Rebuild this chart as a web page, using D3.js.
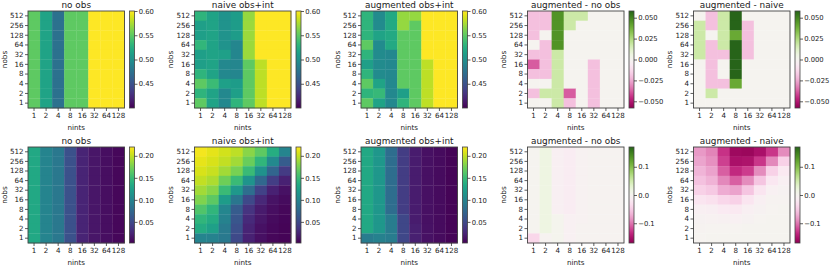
<!DOCTYPE html>
<html><head><meta charset="utf-8">
<script src="https://cdn.jsdelivr.net/npm/d3@7"></script>
<style>
body{margin:0;background:#fff}
svg text{font-family:"DejaVu Sans",sans-serif;fill:#1a1a1a}
</style>
</head><body>
<svg id="c" width="831" height="266"></svg>
<script>
// ---- categories ----
const nints = [1, 2, 4, 8, 16, 32, 64, 128];
const nobsTopDown = [512, 256, 128, 64, 32, 16, 8, 4, 2, 1];

// ---- top row (rows listed nobs 512 -> 1, columns nints 1 -> 128) ----
const noObsTop = [
  [0.55,0.516,0.475,0.55,0.55,0.60,0.60,0.60],
  [0.55,0.516,0.475,0.55,0.55,0.60,0.60,0.60],
  [0.55,0.516,0.475,0.55,0.55,0.60,0.60,0.60],
  [0.55,0.516,0.475,0.55,0.55,0.60,0.60,0.60],
  [0.55,0.516,0.475,0.55,0.55,0.60,0.60,0.60],
  [0.55,0.516,0.475,0.55,0.55,0.60,0.60,0.60],
  [0.55,0.516,0.475,0.55,0.55,0.60,0.60,0.60],
  [0.55,0.516,0.475,0.55,0.55,0.60,0.60,0.60],
  [0.55,0.516,0.475,0.55,0.55,0.60,0.60,0.60],
  [0.55,0.516,0.475,0.55,0.55,0.60,0.60,0.60]
];
const naiveTop = [
  [0.530,0.516,0.503,0.510,0.568,0.60,0.60,0.60],
  [0.512,0.516,0.503,0.510,0.570,0.60,0.60,0.60],
  [0.512,0.516,0.503,0.510,0.570,0.60,0.60,0.60],
  [0.532,0.516,0.503,0.492,0.570,0.60,0.60,0.60],
  [0.512,0.516,0.513,0.492,0.570,0.60,0.60,0.60],
  [0.512,0.516,0.493,0.492,0.550,0.58,0.60,0.60],
  [0.530,0.516,0.493,0.492,0.550,0.58,0.60,0.60],
  [0.550,0.536,0.513,0.510,0.550,0.58,0.60,0.60],
  [0.530,0.516,0.493,0.512,0.550,0.58,0.60,0.60],
  [0.550,0.516,0.493,0.530,0.550,0.58,0.60,0.60]
];
const augTop = [
  [0.530,0.496,0.521,0.568,0.568,0.60,0.60,0.60],
  [0.530,0.496,0.521,0.568,0.550,0.60,0.60,0.60],
  [0.530,0.516,0.521,0.550,0.550,0.60,0.60,0.60],
  [0.550,0.496,0.521,0.550,0.550,0.60,0.60,0.60],
  [0.530,0.496,0.493,0.550,0.550,0.60,0.60,0.60],
  [0.512,0.496,0.493,0.550,0.550,0.58,0.60,0.60],
  [0.530,0.496,0.493,0.550,0.550,0.58,0.60,0.60],
  [0.550,0.516,0.493,0.550,0.550,0.58,0.60,0.60],
  [0.530,0.534,0.493,0.512,0.550,0.58,0.60,0.60],
  [0.550,0.516,0.493,0.530,0.550,0.58,0.60,0.60]
];
const augMinusNoObsTop = [
  [-0.02,-0.02,0.046,0.018,0.018,0,0,0],
  [-0.02,-0.02,0.046,0.018,0,0,0,0],
  [-0.02,0,0.046,0,0,0,0,0],
  [0,-0.02,0.046,0,0,0,0,0],
  [-0.02,-0.02,0.018,0,0,0,0,0],
  [-0.038,-0.02,0.018,0,0,-0.02,0,0],
  [-0.02,-0.02,0.018,0,0,-0.02,0,0],
  [0,0,0.018,0,0,-0.02,0,0],
  [-0.02,0.018,0.018,-0.038,0,-0.02,0,0],
  [0,0,0.018,-0.02,0,-0.02,0,0]
];
const augMinusNaiveTop = [
  [0,-0.02,0.018,0.058,0,0,0,0],
  [0.018,-0.02,0.018,0.058,-0.02,0,0,0],
  [0.018,0,0.018,0.040,-0.02,0,0,0],
  [0.018,-0.02,0.018,0.058,-0.02,0,0,0],
  [0.018,-0.02,-0.02,0.058,-0.02,0,0,0],
  [0,-0.02,0,0.058,0,0,0,0],
  [0,-0.02,0,0.058,0,0,0,0],
  [0,-0.02,-0.02,0.040,0,0,0,0],
  [0,0.018,0,0,0,0,0,0],
  [0,0,0,0,0,0,0,0]
];

// ---- bottom row ----
const noObsBot = [
  [0.133,0.100,0.089,0.056,0.024,0.014,0.010,0.006],
  [0.133,0.100,0.089,0.056,0.024,0.014,0.010,0.006],
  [0.133,0.100,0.089,0.056,0.024,0.014,0.010,0.006],
  [0.133,0.100,0.089,0.056,0.024,0.014,0.010,0.006],
  [0.133,0.100,0.089,0.056,0.024,0.014,0.010,0.006],
  [0.133,0.100,0.089,0.056,0.024,0.014,0.010,0.006],
  [0.133,0.100,0.089,0.056,0.024,0.014,0.010,0.006],
  [0.133,0.100,0.089,0.056,0.024,0.014,0.010,0.006],
  [0.133,0.100,0.089,0.056,0.024,0.014,0.010,0.006],
  [0.133,0.100,0.089,0.056,0.024,0.014,0.010,0.006]
];
const naiveBot = [
  [0.216,0.211,0.205,0.198,0.181,0.166,0.137,0.100],
  [0.212,0.207,0.200,0.190,0.170,0.145,0.105,0.065],
  [0.207,0.202,0.190,0.175,0.150,0.112,0.072,0.040],
  [0.200,0.193,0.172,0.150,0.115,0.075,0.042,0.022],
  [0.190,0.180,0.150,0.118,0.080,0.045,0.022,0.012],
  [0.178,0.165,0.122,0.088,0.050,0.026,0.013,0.008],
  [0.160,0.145,0.102,0.065,0.035,0.018,0.010,0.006],
  [0.145,0.135,0.098,0.060,0.028,0.015,0.008,0.005],
  [0.135,0.125,0.092,0.055,0.024,0.012,0.007,0.004],
  [0.100,0.098,0.090,0.050,0.022,0.011,0.006,0.004]
];
const augBot = [
  [0.133,0.117,0.079,0.041,0.019,0.011,0.008,0.004],
  [0.133,0.117,0.079,0.041,0.019,0.011,0.008,0.004],
  [0.133,0.117,0.079,0.041,0.019,0.011,0.008,0.004],
  [0.133,0.117,0.079,0.041,0.019,0.011,0.008,0.004],
  [0.133,0.117,0.079,0.041,0.019,0.011,0.008,0.004],
  [0.133,0.117,0.079,0.041,0.019,0.011,0.008,0.004],
  [0.133,0.117,0.079,0.041,0.019,0.011,0.008,0.004],
  [0.133,0.117,0.093,0.048,0.019,0.011,0.008,0.004],
  [0.133,0.117,0.093,0.048,0.021,0.012,0.008,0.004],
  [0.093,0.097,0.093,0.048,0.021,0.012,0.008,0.004]
];
const augMinusNoObsBot = [
  [0,0.017,-0.010,-0.015,-0.005,-0.003,-0.002,-0.002],
  [0,0.017,-0.010,-0.015,-0.005,-0.003,-0.002,-0.002],
  [0,0.017,-0.010,-0.015,-0.005,-0.003,-0.002,-0.002],
  [0,0.017,-0.010,-0.015,-0.005,-0.003,-0.002,-0.002],
  [0,0.017,-0.010,-0.015,-0.005,-0.003,-0.002,-0.002],
  [0,0.017,-0.010,-0.015,-0.005,-0.003,-0.002,-0.002],
  [0,0.017,-0.010,-0.015,-0.005,-0.003,-0.002,-0.002],
  [0,0.017,0.004,-0.008,-0.005,-0.003,-0.002,-0.002],
  [0,0.017,0.004,-0.008,-0.003,-0.002,-0.002,-0.002],
  [-0.040,-0.003,0.004,-0.008,-0.003,-0.002,-0.002,-0.002]
];
const augMinusNaiveBot = [
  [-0.083,-0.094,-0.130,-0.160,-0.162,-0.152,-0.128,-0.090],
  [-0.077,-0.088,-0.123,-0.152,-0.150,-0.128,-0.092,-0.045],
  [-0.067,-0.078,-0.110,-0.135,-0.125,-0.090,-0.045,-0.020],
  [-0.058,-0.068,-0.092,-0.110,-0.090,-0.055,-0.022,-0.010],
  [-0.045,-0.052,-0.072,-0.078,-0.055,-0.025,-0.008,-0.004],
  [-0.025,-0.030,-0.040,-0.045,-0.025,-0.010,-0.003,-0.002],
  [-0.010,-0.012,-0.018,-0.020,-0.010,-0.004,-0.001,0],
  [-0.004,-0.005,-0.007,-0.008,-0.004,-0.001,0,0],
  [-0.002,-0.001,-0.001,-0.001,0,0,0,0],
  [-0.001,0,0,0,0,0,0,0]
];

// ---- colour ranges and colour-bar ticks ----
const seqDomainTop = [0.40, 0.60];
const divMaxTop = 0.058;
const seqDomainBot = [0.002, 0.22];
const divMaxBot = 0.17;
const seqTicksTop = [0.45, 0.50, 0.55, 0.60];
const divTicksTop = [-0.05, -0.025, 0, 0.025, 0.05];
const seqTicksBot = [0.05, 0.10, 0.15, 0.20];
const divTicksBot = [-0.1, 0, 0.1];

const titles = ["no obs", "naive obs+int", "augmented obs+int", "augmented - no obs", "augmented - naive"];

const panels = [
  {row:0,col:0,data:noObsTop,kind:"seq"},
  {row:0,col:1,data:naiveTop,kind:"seq"},
  {row:0,col:2,data:augTop,kind:"seq"},
  {row:0,col:3,data:augMinusNoObsTop,kind:"div"},
  {row:0,col:4,data:augMinusNaiveTop,kind:"div"},
  {row:1,col:0,data:noObsBot,kind:"seq"},
  {row:1,col:1,data:naiveBot,kind:"seq"},
  {row:1,col:2,data:augBot,kind:"seq"},
  {row:1,col:3,data:augMinusNoObsBot,kind:"div"},
  {row:1,col:4,data:augMinusNaiveBot,kind:"div"}
];

// ---- layout ----
const colX = [28, 194.5, 361, 527.5, 693.5];
const rowY = [11, 147];
const rowH = [97, 96];
const W = 96.5;
const FS_TICK = 7.1, FS_CB = 6.8, FS_LABEL = 7.2, FS_TITLE = 8.9;

const svg = d3.select("#c");
const defs = svg.append("defs");

function styleAxis(sel, fs){
  sel.select(".domain").remove();
  sel.selectAll(".tick line").attr("stroke","#333").attr("stroke-width",0.8);
  sel.selectAll(".tick text").attr("font-size",fs || FS_TICK).attr("font-family","DejaVu Sans").attr("fill","#1a1a1a");
  sel.attr("font-size",null).attr("font-family",null);
}

panels.forEach((p,pi)=>{
  const X = colX[p.col], Y = rowY[p.row], H = rowH[p.row];
  const g = svg.append("g");
  const x = d3.scaleBand().domain(nints).range([X, X+W]);
  const y = d3.scaleBand().domain(nobsTopDown).range([Y, Y+H]);
  let color, cbDomain, ticks, fmt;
  if(p.kind==="seq"){
    cbDomain = p.row===0 ? seqDomainTop : seqDomainBot;
    color = d3.scaleSequential(d3.interpolateViridis).domain(cbDomain).clamp(true);
    ticks = p.row===0 ? seqTicksTop : seqTicksBot;
    fmt = d3.format(".2f");
  } else {
    const m = p.row===0 ? divMaxTop : divMaxBot;
    cbDomain = [-m, m];
    color = d3.scaleSequential(d3.interpolatePiYG).domain(cbDomain).clamp(true);
    ticks = p.row===0 ? divTicksTop : divTicksBot;
    fmt = d3.format(p.row===0 ? ".3f" : ".1f");
  }
  // cells
  p.data.forEach((r,i)=>{
    r.forEach((v,j)=>{
      g.append("rect")
        .attr("x", x(nints[j])).attr("y", y(nobsTopDown[i]))
        .attr("width", x.bandwidth()+0.3).attr("height", y.bandwidth()+0.3)
        .attr("fill", color(v));
    });
  });
  // frame
  g.append("rect").attr("x",X).attr("y",Y).attr("width",W).attr("height",H)
    .attr("fill","none").attr("stroke","#444").attr("stroke-width",0.9);
  // axes
  g.append("g").attr("transform",`translate(0,${Y+H})`)
    .call(d3.axisBottom(x).tickSize(3).tickPadding(1.5)).call(s=>styleAxis(s));
  g.append("g").attr("transform",`translate(${X},0)`)
    .call(d3.axisLeft(y).tickSize(3).tickPadding(1.5)).call(s=>styleAxis(s));
  // labels
  g.append("text").attr("x",X+W/2).attr("y",Y+H+21.5).attr("text-anchor","middle")
    .attr("font-size",FS_LABEL).text("nints");
  g.append("text").attr("transform",`translate(${X-21.5},${Y+H/2}) rotate(-90)`)
    .attr("text-anchor","middle").attr("font-size",FS_LABEL).text("nobs");
  g.append("text").attr("x",X+W/2).attr("y",Y-3.5).attr("text-anchor","middle")
    .attr("font-size",FS_TITLE).text(titles[p.col]);
  // colorbar
  const cbX = X+W+5, cbW = 5;
  const gid = "grad"+pi;
  const grad = defs.append("linearGradient").attr("id",gid)
    .attr("x1",0).attr("y1",1).attr("x2",0).attr("y2",0);
  d3.range(0,1.0001,0.05).forEach(t=>{
    grad.append("stop").attr("offset",t)
      .attr("stop-color", color(cbDomain[0]+t*(cbDomain[1]-cbDomain[0])));
  });
  g.append("rect").attr("x",cbX).attr("y",Y).attr("width",cbW).attr("height",H)
    .attr("fill",`url(#${gid})`).attr("stroke","#444").attr("stroke-width",0.8);
  const cb = d3.scaleLinear().domain(cbDomain).range([Y+H, Y]);
  g.append("g").attr("transform",`translate(${cbX+cbW},0)`)
    .call(d3.axisRight(cb).tickValues(ticks).tickFormat(fmt).tickSize(3).tickPadding(1.2))
    .call(s=>styleAxis(s, FS_CB));
});
</script>
</body></html>
